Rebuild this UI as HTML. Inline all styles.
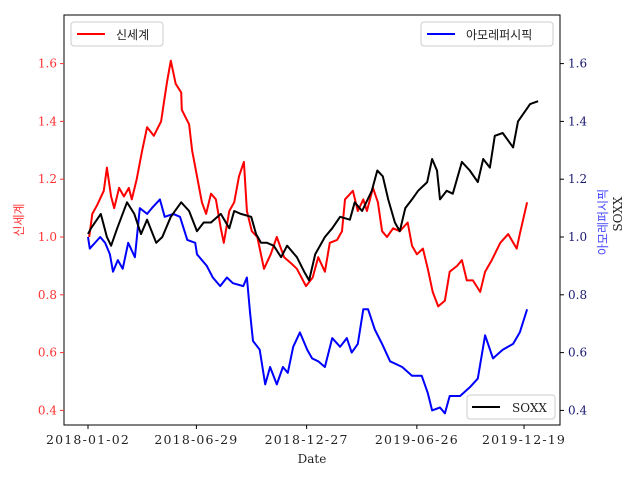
<!DOCTYPE html>
<html><head><meta charset="utf-8"><style>
html,body{margin:0;padding:0;background:#fff;}
svg{display:block;font-family:"DejaVu Serif","Liberation Serif","Noto Serif CJK SC",serif;}
</style></head><body>
<svg id="chart" width="640" height="480" viewBox="0 0 640 480">
<rect x="0" y="0" width="640" height="480" fill="#fff"/>
<g id="lines"></g>
<rect x="64" y="15" width="496" height="410" fill="none" stroke="#000" stroke-width="1"/>
<g id="xticks"></g>
<g id="lticks"></g>
<g id="rticks"></g>
<text x="312" y="463" font-size="12" text-anchor="middle" fill="#222">Date</text>
<text transform="translate(23,220) rotate(-90)" font-size="12" text-anchor="middle" fill="#ff3333" style="font-family:'Noto Sans CJK KR',sans-serif">신세계</text>
<text transform="translate(607,222) rotate(-90)" font-size="12" text-anchor="middle" fill="#4444ff" style="font-family:'Noto Sans CJK KR',sans-serif">아모레퍼시픽</text>
<text transform="translate(622,214) rotate(-90)" font-size="12" text-anchor="middle" fill="#222">SOXX</text>
<g>
<rect x="71" y="22" width="92" height="24" rx="3" fill="#fff" fill-opacity="0.8" stroke="#ccc"/>
<line x1="77" y1="34" x2="105" y2="34" stroke="#ff0000" stroke-width="2"/>
<text x="116" y="39" font-size="12" fill="#222" style="font-family:'Noto Sans CJK KR',sans-serif">신세계</text>
</g>
<g>
<rect x="421" y="22" width="132" height="24" rx="3" fill="#fff" fill-opacity="0.8" stroke="#ccc"/>
<line x1="427" y1="34" x2="455" y2="34" stroke="#0000ff" stroke-width="2"/>
<text x="466" y="39" font-size="12" fill="#222" style="font-family:'Noto Sans CJK KR',sans-serif">아모레퍼시픽</text>
</g>
<g>
<rect x="467" y="395" width="88" height="24" rx="3" fill="#fff" fill-opacity="0.8" stroke="#ccc"/>
<line x1="472" y1="407" x2="500" y2="407" stroke="#000" stroke-width="2"/>
<text x="512" y="412" font-size="12" fill="#222">SOXX</text>
</g>
</svg>
<script>
const xTickDays=[0,178,359,540,716];
const xTickLabels=["2018-01-02","2018-06-29","2018-12-27","2019-06-26","2019-12-19"];
const yTicks=[0.4,0.6,0.8,1.0,1.2,1.4,1.6];
const shinsegaeDays=[2,7,15,26,31,38,43,51,59,67,72,80,89,97,108,120,125,130,136,144,153,154,166,171,179,187,194,202,210,218,223,232,240,248,256,261,269,278,289,300,310,322,333,343,358,369,378,389,397,409,417,422,435,443,452,458,468,476,483,491,501,512,525,532,540,550,558,566,575,586,594,606,614,622,632,644,652,663,677,690,704,709,721];
const shinsegaeVals=[1.00,1.08,1.11,1.16,1.24,1.14,1.10,1.17,1.14,1.17,1.13,1.20,1.30,1.38,1.35,1.40,1.47,1.54,1.61,1.53,1.50,1.44,1.39,1.30,1.21,1.12,1.08,1.15,1.13,1.03,0.98,1.09,1.12,1.21,1.26,1.09,1.02,1.00,0.89,0.94,1.00,0.93,0.91,0.89,0.83,0.86,0.93,0.88,0.98,0.99,1.02,1.13,1.16,1.09,1.13,1.09,1.17,1.12,1.02,1.00,1.03,1.02,1.05,0.97,0.94,0.96,0.89,0.81,0.76,0.78,0.88,0.90,0.92,0.85,0.85,0.81,0.88,0.92,0.98,1.01,0.96,1.01,1.12];
const amoreDays=[0,3,20,28,36,41,49,57,66,77,85,97,105,118,126,140,151,163,176,179,195,205,217,228,238,255,261,266,271,282,291,299,310,320,328,337,348,360,368,378,389,401,414,425,433,443,452,460,471,483,496,516,532,548,558,565,578,586,594,611,627,640,652,665,681,698,709,721];
const amoreVals=[1.00,0.96,1.00,0.98,0.94,0.88,0.92,0.89,0.98,0.93,1.10,1.08,1.10,1.13,1.07,1.08,1.07,0.99,0.98,0.94,0.90,0.86,0.83,0.86,0.84,0.83,0.86,0.74,0.64,0.61,0.49,0.55,0.49,0.55,0.53,0.62,0.67,0.61,0.58,0.57,0.55,0.65,0.62,0.65,0.60,0.63,0.75,0.75,0.68,0.63,0.57,0.55,0.52,0.52,0.46,0.40,0.41,0.39,0.45,0.45,0.48,0.51,0.66,0.58,0.61,0.63,0.67,0.75];
const soxxDays=[0,5,21,31,38,48,64,76,87,97,112,122,136,153,166,179,190,202,218,232,240,251,268,276,284,294,305,317,327,343,355,363,373,389,401,414,430,438,450,466,475,484,493,504,512,521,532,542,557,565,573,578,589,599,614,627,640,649,660,668,681,698,706,726,739];
const soxxVals=[1.01,1.03,1.08,1.00,0.97,1.03,1.12,1.08,1.01,1.06,0.98,1.00,1.07,1.12,1.09,1.02,1.05,1.05,1.08,1.03,1.09,1.08,1.07,1.01,0.98,0.98,0.97,0.93,0.97,0.93,0.88,0.85,0.94,1.00,1.03,1.07,1.06,1.12,1.09,1.16,1.23,1.21,1.13,1.05,1.02,1.10,1.13,1.16,1.19,1.27,1.23,1.13,1.16,1.15,1.26,1.23,1.19,1.27,1.24,1.35,1.36,1.31,1.40,1.46,1.47];

const NS='http://www.w3.org/2000/svg';
function xScale(d){return 88+d*0.609;}
function yScale(v){return 237-(v-1)*289;}
function mk(tag,attrs,parent){const e=document.createElementNS(NS,tag);for(const k in attrs)e.setAttribute(k,attrs[k]);parent.appendChild(e);return e;}

const lines=document.getElementById('lines');
function drawLine(days,vals,color,name){
  let d='';
  for(let i=0;i<days.length;i++){d+=(i?'L':'M')+xScale(days[i]).toFixed(1)+','+yScale(vals[i]).toFixed(1);}
  const p=mk('path',{d:d,fill:'none',stroke:color,'stroke-width':2,'stroke-linejoin':'round'},lines);
  
  
}
drawLine(shinsegaeDays,shinsegaeVals,'#ff0000','shinsegae-line');
drawLine(amoreDays,amoreVals,'#0000ff','amore-line');
drawLine(soxxDays,soxxVals,'#000000','soxx-line');

const xt=document.getElementById('xticks');
for(let i=0;i<xTickDays.length;i++){
  const x=xScale(xTickDays[i]);
  const l=mk('line',{x1:x,y1:425,x2:x,y2:429,stroke:'#000'},xt);
  
  
  const t=mk('text',{x:x,y:444,'font-size':12.5,'text-anchor':'middle',fill:'#222','letter-spacing':'1.2'},xt);
  
  
  t.textContent=xTickLabels[i];
}
const lt=document.getElementById('lticks'),rt=document.getElementById('rticks');
for(const v of yTicks){
  const y=yScale(v);
  const a=mk('line',{x1:60,y1:y,x2:64,y2:y,stroke:'#ff3333'},lt);
  
  
  const ta=mk('text',{x:57,y:y+4,'font-size':12,'text-anchor':'end',fill:'#ff3333'},lt);
  
  
  ta.textContent=v.toFixed(1);
  const b=mk('line',{x1:560,y1:y,x2:564,y2:y,stroke:'#000'},rt);
  
  
  const tb=mk('text',{x:568,y:y+4,'font-size':12,'text-anchor':'start',fill:'#191970'},rt);
  
  
  tb.textContent=v.toFixed(1);
}
</script>
</body></html>
